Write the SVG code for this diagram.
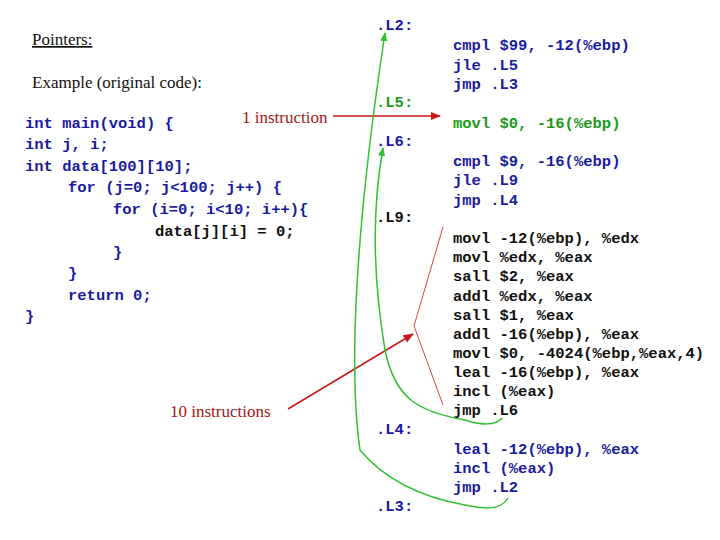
<svg xmlns="http://www.w3.org/2000/svg" width="720" height="540" viewBox="0 0 720 540">
<defs>
<style>
.s{font-family:"Liberation Serif",serif;font-size:17px}
.c{font-family:"Liberation Mono",monospace;font-size:15.5px;font-weight:bold}
.b{fill:#1a1aa0}.k{fill:#111}.g{fill:#1a9a1a}.r{fill:#a01818}
</style>
<marker id="ar" viewBox="0 0 10 10" refX="9" refY="5" markerWidth="7" markerHeight="7" orient="auto"><path d="M0,1L10,5L0,9z" fill="#c81818"/></marker>
<marker id="ag" viewBox="0 0 10 10" refX="9" refY="5" markerWidth="6" markerHeight="6" orient="auto"><path d="M0,1L10,5L0,9z" fill="#30c030"/></marker>
</defs>
<rect width="720" height="540" fill="#fff"/>
<g id="title" class="s k">
<text x="32" y="45" text-decoration="underline">Pointers:</text>
<text x="32" y="88">Example (original code):</text>
</g>
<g id="ccode" class="c">
<text x="25" y="128" class="b">int main(void) {</text>
<text x="25" y="149" class="b">int j, i;</text>
<text x="25" y="171" class="b">int data[100][10];</text>
<text x="68" y="192" class="b">for (j=0; j&lt;100; j++) {</text>
<text x="113" y="214" class="b">for (i=0; i&lt;10; i++){</text>
<text x="155" y="236" class="k">data[j][i] = 0;</text>
<text x="113" y="257" class="b">}</text>
<text x="68" y="278" class="b">}</text>
<text x="68" y="300" class="b">return 0;</text>
<text x="25" y="321" class="b">}</text>
</g>
<g id="labels" class="c">
<text x="376" y="30" class="b">.L2:</text>
<text x="376" y="107" class="g">.L5:</text>
<text x="376" y="146" class="b">.L6:</text>
<text x="376" y="222" class="k">.L9:</text>
<text x="376" y="434" class="b">.L4:</text>
<text x="376" y="511" class="b">.L3:</text>
</g>
<g id="asm" class="c">
<g class="b"><text x="453" y="50">cmpl $99, -12(%ebp)</text><text x="453" y="70">jle .L5</text><text x="453" y="89">jmp .L3</text></g>
<text x="453" y="128" class="g">movl $0, -16(%ebp)</text>
<g class="b"><text x="453" y="166">cmpl $9, -16(%ebp)</text><text x="453" y="185">jle .L9</text><text x="453" y="205">jmp .L4</text></g>
<g class="k">
<text x="453" y="243">movl -12(%ebp), %edx</text>
<text x="453" y="262">movl %edx, %eax</text>
<text x="453" y="281">sall $2, %eax</text>
<text x="453" y="301">addl %edx, %eax</text>
<text x="453" y="320">sall $1, %eax</text>
<text x="453" y="339">addl -16(%ebp), %eax</text>
<text x="453" y="358">movl $0, -4024(%ebp,%eax,4)</text>
<text x="453" y="377">leal -16(%ebp), %eax</text>
<text x="453" y="396">incl (%eax)</text>
<text x="453" y="415">jmp .L6</text>
</g>
<g class="b"><text x="453" y="454">leal -12(%ebp), %eax</text><text x="453" y="473">incl (%eax)</text><text x="453" y="492">jmp .L2</text></g>
</g>
<g id="notes" class="s r">
<text x="242" y="123">1 instruction</text>
<text x="170" y="417">10 instructions</text>
</g>
<g id="connectors" fill="none">
<path d="M333,116H440" stroke="#c81818" stroke-width="1.5" marker-end="url(#ar)"/>
<path d="M288,409L413,334" stroke="#c81818" stroke-width="1.5" marker-end="url(#ar)"/>
<path d="M443,227L414,326L443,405" stroke="#c81818" stroke-width="0.8"/>
<path d="M502,418C496,426 480,425 465,420C420,412 395,400 385,350C375,290 370,220 383,148" stroke="#30c030" stroke-width="1.5" marker-end="url(#ag)"/>
<path d="M508,498C500,512 480,508 465,505C420,497 385,480 360,450C350,380 352,250 385,33" stroke="#30c030" stroke-width="1.5" marker-end="url(#ag)"/>
</g>
</svg>
